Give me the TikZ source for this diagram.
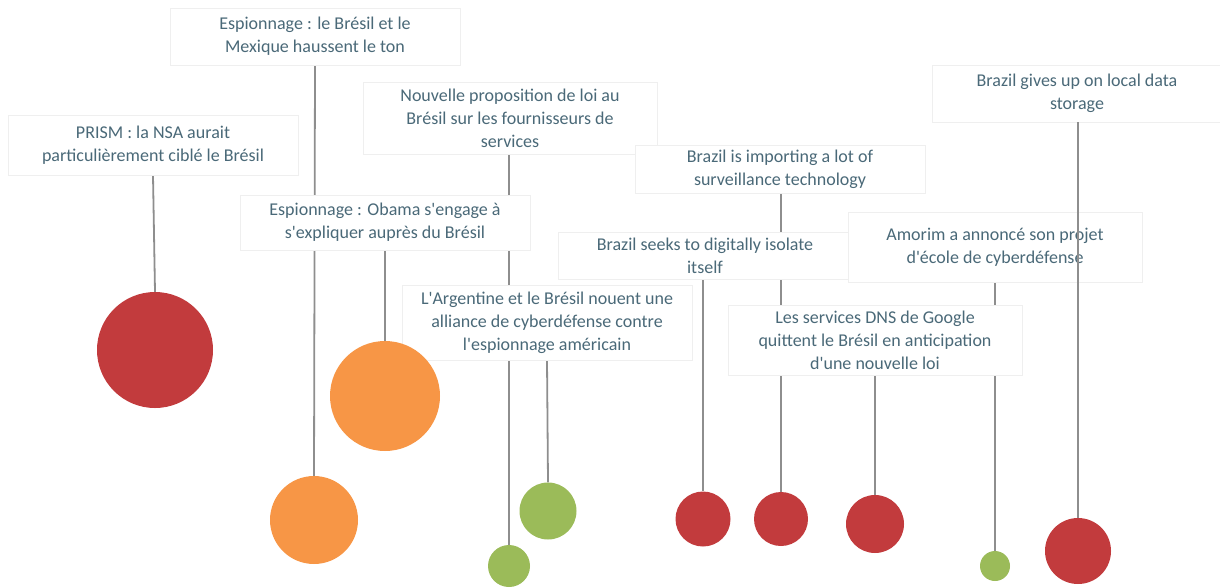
\documentclass[tikz,border=0pt]{standalone}
\usepackage{fontspec}
\setmainfont{Carlito}
\usetikzlibrary{backgrounds}
\definecolor{txt}{HTML}{4A6978}
\definecolor{boxline}{HTML}{EFEFEF}
\definecolor{stem}{HTML}{8E8E8E}
\definecolor{cred}{HTML}{C23B3D}
\definecolor{corange}{HTML}{F79646}
\definecolor{cgreen}{HTML}{9BBB59}
\newcommand{\ap}{\textquotesingle}
\tikzset{
  evbox/.style={draw=boxline, line width=0.8pt, fill=white, align=center, text=txt,
    font=\fontsize{18}{23}\selectfont, inner sep=0pt},
  bub/.style={circle, inner sep=0pt, minimum size=#1, draw=none},
  stemline/.style={draw=stem, line width=1.8pt}
}
\begin{document}
\begin{tikzpicture}[x=1pt,y=-1pt]
\useasboundingbox (0,0) rectangle (1220,587);
% boxes
\node[evbox, minimum width=290pt, minimum height=60pt] (prism) at (153,145) {PRISM : la NSA aurait\\particulièrement ciblé le Brésil};
\node[evbox, minimum width=290pt, minimum height=57pt] (mex) at (315,36.5) {Espionnage : le Brésil et le\\Mexique haussent le ton};
\node[evbox, minimum width=290pt, minimum height=55pt] (obama) at (385,222.5) {Espionnage : Obama s\ap engage à\\s\ap expliquer auprès du Brésil};
\node[evbox, minimum width=294pt, minimum height=72pt] (loi) at (510,118.5) {Nouvelle proposition de loi au\\Brésil sur les fournisseurs de\\services};
\node[evbox, minimum width=290pt, minimum height=75pt] (arg) at (547,322.5) {L\ap Argentine et le Brésil nouent une\\alliance de cyberdéfense contre\\l\ap espionnage américain};
\node[evbox, minimum width=290pt, minimum height=48pt] (imp) at (780,169) {Brazil is importing a lot of\\surveillance technology};
\node[evbox, minimum width=294pt, minimum height=47pt] (seek) at (705,256) {Brazil seeks to digitally isolate\\itself};
\node[evbox, minimum width=294pt, minimum height=70pt] (dns) at (875,340) {Les services DNS de Google\\quittent le Brésil en anticipation\\d\ap une nouvelle loi};
\node[evbox, minimum width=294pt, minimum height=70pt] (amo) at (995,247.5) {Amorim a annoncé son projet\\d\ap école de cyberdéfense};
\node[evbox, minimum width=290pt, minimum height=57pt] (give) at (1077,93.5) {Brazil gives up on local data\\storage};
% bubbles
\node[bub=116pt, fill=cred] (c1) at (155,350) {};
\node[bub=88pt, fill=corange] (c2) at (314,520) {};
\node[bub=110pt, fill=corange] (c3) at (385,396) {};
\node[bub=42pt, fill=cgreen] (c4) at (509,566) {};
\node[bub=57pt, fill=cgreen] (c5) at (548,511) {};
\node[bub=55pt, fill=cred] (c6) at (703,519) {};
\node[bub=54pt, fill=cred] (c7) at (781,519) {};
\node[bub=58pt, fill=cred] (c8) at (875,524) {};
\node[bub=30pt, fill=cgreen] (c9) at (995,566) {};
\node[bub=66pt, fill=cred] (c10) at (1078,551) {};
% stems
\begin{scope}[on background layer]
\draw[stemline] (prism.south) -- (c1.north);
\draw[stemline] (mex.south) -- (c2.north);
\draw[stemline] (obama.south) -- (c3.north);
\draw[stemline] (loi.south -| c4.north) -- (c4.north);
\draw[stemline] (arg.south) -- (c5.north);
\draw[stemline] (seek.south -| c6.north) -- (c6.north);
\draw[stemline] (imp.south -| c7.north) -- (c7.north);
\draw[stemline] (dns.south) -- (c8.north);
\draw[stemline] (amo.south -| c9.north) -- (c9.north);
\end{scope}
\draw[stemline] (give.south -| c10.north) -- (c10.north);
\end{tikzpicture}
\end{document}
